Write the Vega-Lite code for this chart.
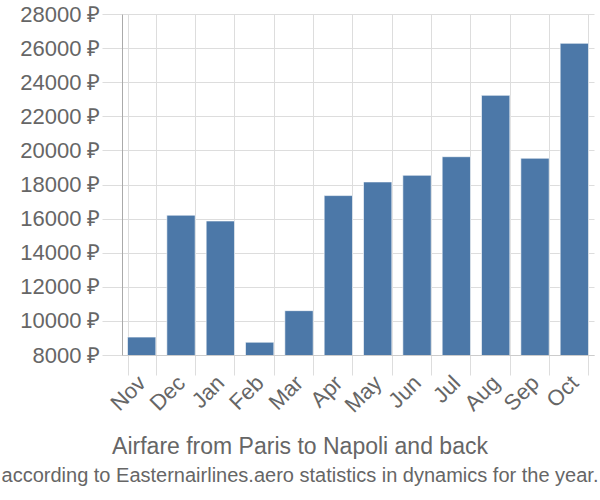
{
  "$schema": "https://vega.github.io/schema/vega-lite/v6.json",
  "autosize": {"type": "none"},
  "width": 472,
  "height": 341,
  "padding": {"left": 122, "top": 14, "right": 6, "bottom": 145},
  "background": "white",
  "title": {
    "text": "Airfare from Paris to Napoli and back",
    "subtitle": "according to Easternairlines.aero statistics in dynamics for the year.",
    "orient": "bottom",
    "anchor": "middle",
    "frame": "group",
    "dx": -58,
    "offset": 20,
    "font": "Liberation Sans",
    "fontSize": 23,
    "fontWeight": "normal",
    "color": "#666666",
    "subtitleFont": "Liberation Sans",
    "subtitleFontSize": 20,
    "subtitleColor": "#666666",
    "subtitlePadding": 7
  },
  "data": {
    "values": [
      {"month": "Nov", "price": 9050},
      {"month": "Dec", "price": 16200},
      {"month": "Jan", "price": 15860},
      {"month": "Feb", "price": 8750},
      {"month": "Mar", "price": 10600},
      {"month": "Apr", "price": 17350},
      {"month": "May", "price": 18150},
      {"month": "Jun", "price": 18540},
      {"month": "Jul", "price": 19630},
      {"month": "Aug", "price": 23230},
      {"month": "Sep", "price": 19540},
      {"month": "Oct", "price": 26280}
    ]
  },
  "mark": {"type": "bar", "color": "#4c78a8", "stroke": "#ffffff", "strokeOpacity": 0.6, "strokeWidth": 1, "clip": true},
  "encoding": {
    "x": {
      "field": "month",
      "type": "nominal",
      "sort": null,
      "scale": {"paddingInner": 0.28, "paddingOuter": 0.14},
      "axis": {
        "title": null,
        "labelAngle": -45,
        "labelAlign": "right",
        "labelBaseline": "middle",
        "labelFont": "Liberation Sans",
        "labelFontSize": 22,
        "labelColor": "#666666",
        "labelPadding": 4,
        "tickBand": "extent",
        "tickSize": 20,
        "tickColor": "#dddddd",
        "grid": true,
        "gridColor": "#dddddd",
        "domainColor": "#cccccc"
      }
    },
    "y": {
      "field": "price",
      "type": "quantitative",
      "scale": {"domain": [8000, 28000], "zero": false, "nice": false},
      "axis": {
        "title": null,
        "values": [8000, 10000, 12000, 14000, 16000, 18000, 20000, 22000, 24000, 26000, 28000],
        "labelExpr": "format(datum.value, 'd') + ' ₽'",
        "labelFont": "Liberation Sans",
        "labelFontSize": 22,
        "labelColor": "#666666",
        "labelPadding": 2,
        "tickSize": 20,
        "tickColor": "#dddddd",
        "gridColor": "#dddddd",
        "domainColor": "#aaaaaa"
      }
    }
  },
  "config": {"view": {"stroke": null}}
}
